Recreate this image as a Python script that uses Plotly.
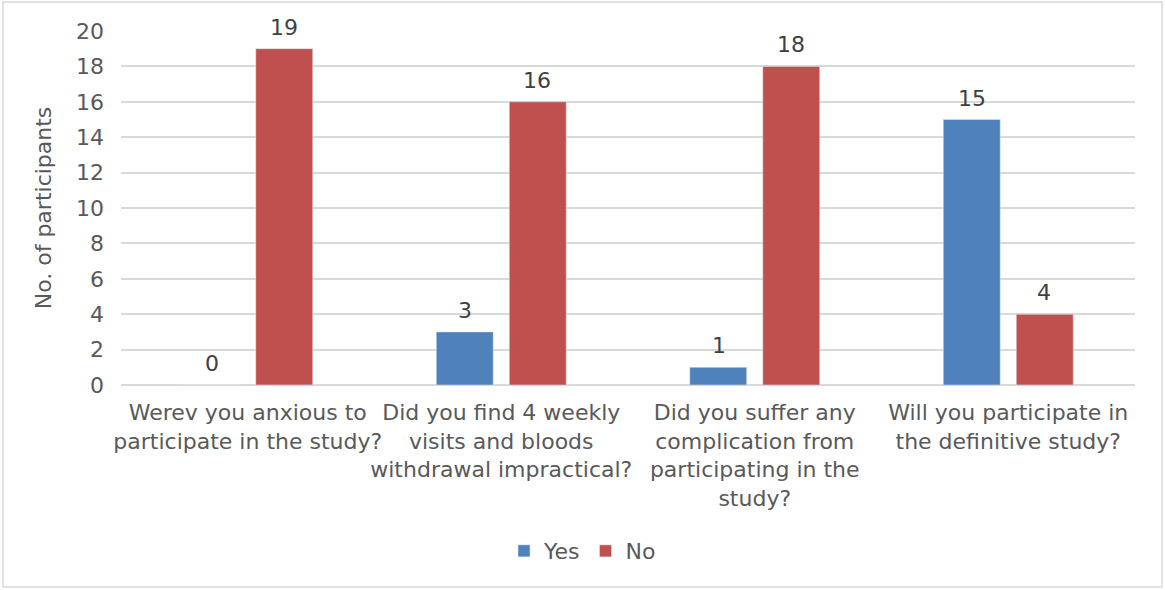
import plotly.graph_objects as go

# Survey questions (x categories) and participant counts
categories = [
    "Werev you anxious to<br>participate in the study?",
    "Did you find 4 weekly<br>visits and bloods<br>withdrawal impractical?",
    "Did you suffer any<br>complication from<br>participating in the<br>study?",
    "Will you participate in<br>the definitive study?",
]
yes_counts = [0, 3, 1, 15]
no_counts = [19, 16, 18, 4]
y_ticks = list(range(0, 21, 2))

BLUE = "#4F81BD"
RED = "#C0504D"
GRID = "#D9D9D9"
TEXT = "#595959"
FONT = "DejaVu Sans"
SIZE = 22

fig = go.Figure()
fig.add_trace(go.Bar(name="Yes", x=categories, y=yes_counts, marker_color=BLUE))
fig.add_trace(go.Bar(name="No", x=categories, y=no_counts, marker_color=RED))

# value labels above each bar
for shift, vals in ((-36, yes_counts), (36, no_counts)):
    for cat, v in zip(categories, vals):
        fig.add_annotation(x=cat, y=v, text=str(v), showarrow=False,
                           xshift=shift, yshift=7, yanchor="bottom",
                           font=dict(family=FONT, size=SIZE, color="#404040"))

# light border around the whole chart
fig.add_shape(type="rect", xref="paper", yref="paper",
              x0=-0.1164, x1=1.0266, y0=-0.5706, y1=1.0819,
              line=dict(color=GRID, width=1.5), fillcolor="rgba(0,0,0,0)")

fig.update_layout(
    width=1165, height=590,
    margin=dict(l=121, r=30, t=31, b=205),
    paper_bgcolor="white", plot_bgcolor="white",
    barmode="group", bargap=0.424, bargroupgap=0.22,
    font=dict(family=FONT, size=SIZE, color=TEXT),
    showlegend=True,
    legend=dict(orientation="h", xref="container", yref="container",
                x=0.5, xanchor="center", y=0.066, yanchor="middle",
                font=dict(family=FONT, size=SIZE, color=TEXT),
                itemwidth=30, traceorder="normal"),
)
fig.update_xaxes(showgrid=False, showline=False, zeroline=False,
                 tickangle=0, ticklabelstandoff=12,
                 tickfont=dict(family=FONT, size=SIZE, color=TEXT))
fig.update_yaxes(range=[0, 20], tickvals=y_ticks, showgrid=True,
                 gridcolor=GRID, gridwidth=1.5, zeroline=True,
                 zerolinecolor=GRID, zerolinewidth=1.5, showline=False,
                 ticklabelstandoff=16,
                 tickfont=dict(family=FONT, size=SIZE, color=TEXT),
                 title=dict(text="No. of participants", standoff=18,
                            font=dict(family=FONT, size=SIZE, color=TEXT)))

fig.write_html("out.html")
